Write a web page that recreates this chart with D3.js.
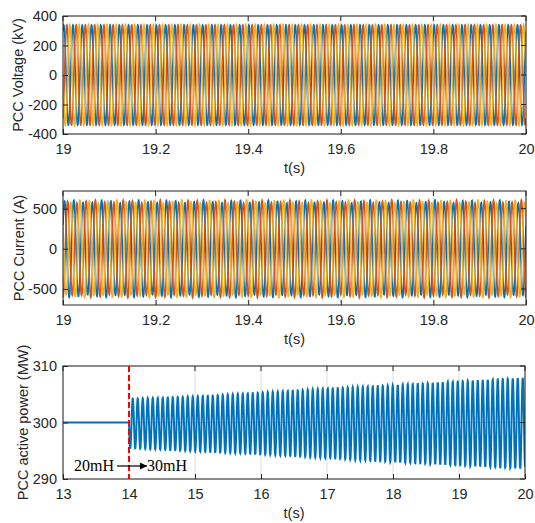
<!DOCTYPE html>
<html><head><meta charset="utf-8">
<script src="https://cdn.jsdelivr.net/npm/d3@7"></script>
<style>
body{margin:0;background:#fff;}
text{font-family:"Liberation Sans",Arial,sans-serif;fill:#262626;}
</style></head>
<body><svg id="c" width="535" height="523"></svg>
<script>
// ---------- data ----------
const voltageXTicks = [19, 19.2, 19.4, 19.6, 19.8, 20];
const voltageYTicks = [-400, -200, 0, 200, 400];
const currentYTicks = [-500, 0, 500];
const powerXTicks = [13, 14, 15, 16, 17, 18, 19, 20];
const powerYTicks = [290, 300, 310];
const gridFrequencyHz = 50;
const phaseShiftsDeg = [60, -60, 180];        // phases a, b, c
const voltagePeakKV = [340, 340, 340];
const currentPeakA = [590, 590, 590];
const currentRippleA = [18, 18, 18];
const currentRippleHz = 14;
const powerStepTime = 14;
const powerBefore = 300;
const powerOscHz = 13.2;
const powerEnvTime  = [14,    15,    16,    17,    18,    19,    20];
const powerEnvUpper = [304.2, 304.6, 305.3, 306.0, 306.6, 307.3, 307.9];
const powerEnvLower = [295.5, 294.9, 294.4, 293.7, 293.0, 292.4, 291.8];
const annotation = ["20mH", "30mH"];

// ---------- styles ----------
const phaseColors = ["#0072BD", "#D95319", "#EDB120"];
const FS = 14.5;
const svg = d3.select("#c");

function panel(cfg){
  const g = svg.append("g");
  const x = d3.scaleLinear().domain(cfg.xd).range([cfg.x0, cfg.x1]);
  const y = d3.scaleLinear().domain(cfg.yd).range([cfg.y1, cfg.y0]);
  const id = "clip" + cfg.id;
  svg.append("clipPath").attr("id", id).append("rect")
    .attr("x", cfg.x0).attr("y", cfg.y0).attr("width", cfg.x1 - cfg.x0).attr("height", cfg.y1 - cfg.y0);
  // grid
  g.append("g").selectAll("line").data(cfg.xt).join("line")
    .attr("x1", d => x(d)).attr("x2", d => x(d)).attr("y1", cfg.y0).attr("y2", cfg.y1)
    .attr("stroke", "#dcdcdc").attr("stroke-width", 1);
  g.append("g").selectAll("line").data(cfg.yt).join("line")
    .attr("y1", d => y(d)).attr("y2", d => y(d)).attr("x1", cfg.x0).attr("x2", cfg.x1)
    .attr("stroke", "#dcdcdc").attr("stroke-width", 1);
  const lines = g.append("g").attr("clip-path", `url(#${id})`);
  // axes
  const ax = g.append("g").attr("transform", `translate(0,${cfg.y1})`)
    .call(d3.axisBottom(x).tickValues(cfg.xt).tickSizeInner(-5).tickSizeOuter(0).tickPadding(10).tickFormat(d3.format("~g")));
  const ay = g.append("g").attr("transform", `translate(${cfg.x0},0)`)
    .call(d3.axisLeft(y).tickValues(cfg.yt).tickSizeInner(-5).tickSizeOuter(0).tickPadding(6).tickFormat(d => d < 0 ? "-" + Math.abs(d) : d));
  [ax, ay].forEach(a => {
    a.select(".domain").remove();
    a.selectAll(".tick line").attr("stroke", "#262626");
    a.selectAll("text").attr("font-size", FS).attr("fill", "#262626")
      .attr("font-family", "'Liberation Sans', Arial, sans-serif");
  });
  // box
  g.append("rect").attr("x", cfg.x0).attr("y", cfg.y0).attr("width", cfg.x1 - cfg.x0).attr("height", cfg.y1 - cfg.y0)
    .attr("fill", "none").attr("stroke", "#262626").attr("stroke-width", 1);
  // top / right ticks
  g.append("g").selectAll("line").data(cfg.xt).join("line")
    .attr("x1", d => x(d)).attr("x2", d => x(d)).attr("y1", cfg.y0).attr("y2", cfg.y0 + 5).attr("stroke", "#262626");
  g.append("g").selectAll("line").data(cfg.yt).join("line")
    .attr("y1", d => y(d)).attr("y2", d => y(d)).attr("x1", cfg.x1).attr("x2", cfg.x1 - 5).attr("stroke", "#262626");
  // labels
  g.append("text").attr("x", (cfg.x0 + cfg.x1) / 2).attr("y", cfg.y1 + 39).attr("text-anchor", "middle")
    .attr("font-size", FS).text("t(s)");
  g.append("text").attr("transform", `translate(${cfg.ylx},${(cfg.y0 + cfg.y1) / 2}) rotate(-90)`)
    .attr("text-anchor", "middle").attr("dominant-baseline", "central").attr("font-size", FS).text(cfg.ylabel);
  return {g, x, y, lines};
}

// ---------- top: voltage ----------
const p1 = panel({id: 1, x0: 63, x1: 526, y0: 16, y1: 134, xd: [19, 20], yd: [-400, 400],
  xt: voltageXTicks, yt: voltageYTicks, ylabel: "PCC Voltage (kV)", ylx: 18});
const tV = d3.range(19, 20.00001, 0.0005);
phaseShiftsDeg.forEach((ph, k) => {
  const pts = tV.map(t => [t, voltagePeakKV[k] * Math.sin(2 * Math.PI * gridFrequencyHz * t + ph * Math.PI / 180)]);
  p1.lines.append("path").datum(pts).attr("fill", "none").attr("stroke", phaseColors[k]).attr("stroke-width", 1.6)
    .attr("d", d3.line().x(d => p1.x(d[0])).y(d => p1.y(d[1])));
});

// ---------- middle: current ----------
const p2 = panel({id: 2, x0: 63, x1: 526, y0: 191, y1: 305, xd: [19, 20], yd: [-700, 720],
  xt: voltageXTicks, yt: currentYTicks, ylabel: "PCC Current (A)", ylx: 19});
phaseShiftsDeg.forEach((ph, k) => {
  const pts = tV.map(t => {
    const amp = currentPeakA[k] + currentRippleA[k] * Math.sin(2 * Math.PI * currentRippleHz * t + k * 2.1);
    return [t, amp * Math.sin(2 * Math.PI * gridFrequencyHz * t + (ph - 30) * Math.PI / 180)];
  });
  p2.lines.append("path").datum(pts).attr("fill", "none").attr("stroke", phaseColors[k]).attr("stroke-width", 1.6)
    .attr("d", d3.line().x(d => p2.x(d[0])).y(d => p2.y(d[1])));
});

// ---------- bottom: active power ----------
const p3 = panel({id: 3, x0: 63, x1: 525, y0: 366, y1: 479, xd: [13, 20], yd: [290, 310],
  xt: powerXTicks, yt: powerYTicks, ylabel: "PCC active power (MW)", ylx: 23});
const up = d3.scaleLinear().domain(powerEnvTime).range(powerEnvUpper);
const lo = d3.scaleLinear().domain(powerEnvTime).range(powerEnvLower);
const tP = d3.range(13, 20.00001, 0.002);
const pPts = tP.map(t => {
  if (t < powerStepTime) return [t, powerBefore];
  const c = (up(t) + lo(t)) / 2, a = (up(t) - lo(t)) / 2;
  return [t, c - a * Math.sin(2 * Math.PI * powerOscHz * (t - powerStepTime))];
});
p3.lines.append("path").datum(pPts).attr("fill", "none").attr("stroke", phaseColors[0]).attr("stroke-width", 2)
  .attr("d", d3.line().x(d => p3.x(d[0])).y(d => p3.y(d[1])));
// red dashed line at the step
p3.g.append("line").attr("x1", p3.x(powerStepTime)).attr("x2", p3.x(powerStepTime))
  .attr("y1", 366).attr("y2", 479).attr("stroke", "#FF0000").attr("stroke-width", 2).attr("stroke-dasharray", "6,3");
// annotation
svg.append("defs").append("marker").attr("id", "arr").attr("viewBox", "0 0 10 10").attr("refX", 10).attr("refY", 5)
  .attr("markerWidth", 10).attr("markerHeight", 7).attr("markerUnits", "userSpaceOnUse").attr("orient", "auto")
  .append("path").attr("d", "M0,0 L10,5 L0,10 Z").attr("fill", "#000");
const ay0 = 466;
svg.append("text").attr("x", 74).attr("y", ay0 + 5).attr("font-size", 16)
  .style("font-family", "'Liberation Serif','Times New Roman',serif").style("fill", "#000").text(annotation[0]);
svg.append("line").attr("x1", 117).attr("x2", 147).attr("y1", ay0).attr("y2", ay0)
  .attr("stroke", "#000").attr("stroke-width", 1.2).attr("marker-end", "url(#arr)");
svg.append("text").attr("x", 147).attr("y", ay0 + 5).attr("font-size", 16)
  .style("font-family", "'Liberation Serif','Times New Roman',serif").style("fill", "#000").text(annotation[1]);
</script></body></html>
